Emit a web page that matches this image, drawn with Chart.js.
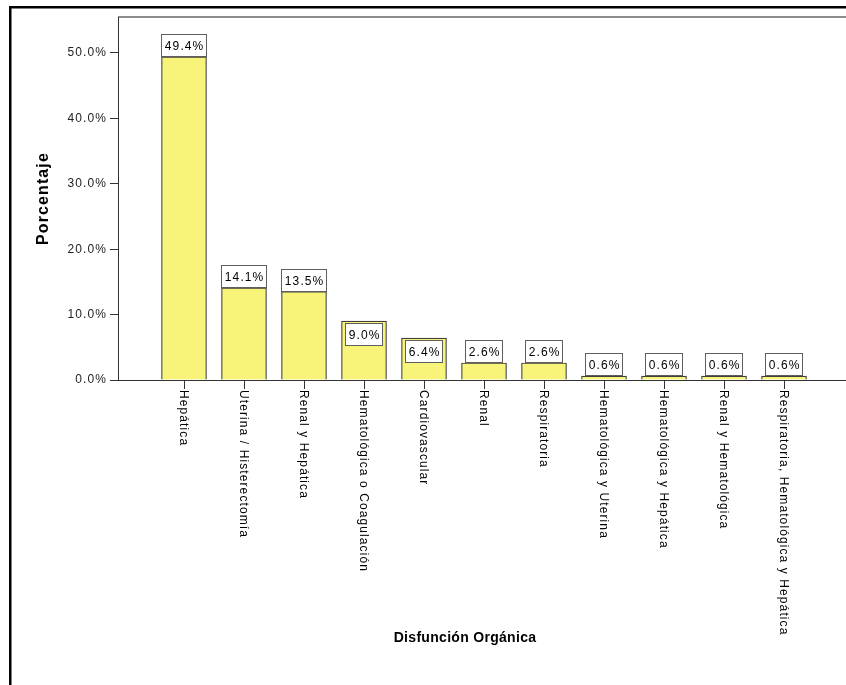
<!DOCTYPE html>
<html>
<head>
<meta charset="utf-8">
<script src="https://cdn.jsdelivr.net/npm/chart.js@4/dist/chart.umd.min.js"></script>
<style>
  html, body { margin: 0; padding: 0; background: #fff; overflow: hidden; }
  #wrap { position: relative; width: 846px; height: 685px; }
</style>
</head>
<body>
<div id="wrap"><canvas id="chart" width="846" height="685"></canvas></div>
<script>
// data
const categories = [
  'Hepática', 'Uterina / Histerectomía', 'Renal y Hepática', 'Hematológica o Coagulación',
  'Cardiovascular', 'Renal', 'Respiratoria', 'Hematológica y Uterina',
  'Hematológica y Hepática', 'Renal y Hematológica', 'Respiratoria, Hematológica y Hepática'
];
const percentages = [49.4, 14.1, 13.5, 9.0, 6.4, 2.6, 2.6, 0.6, 0.6, 0.6, 0.6];
const yTicks = [0, 10, 20, 30, 40, 50];
const yTitle = 'Porcentaje';
const xTitle = 'Disfunción Orgánica';

const FONT = '"Liberation Sans", Arial, sans-serif';
const pct = v => v.toFixed(1) + '%';

// frame, data labels, rotated category labels, x title
const decor = {
  id: 'decor',
  beforeDraw(c) {
    const g = c.ctx, a = c.chartArea;
    g.fillStyle = '#000';
    g.fillRect(9, 6, c.width, 2.5);
    g.fillRect(9, 6, 2.5, c.height);
    g.strokeStyle = '#8c8c8c';
    g.lineWidth = 2;
    g.beginPath();
    g.moveTo(a.left, a.top);
    g.lineTo(c.width, a.top);
    g.stroke();
    g.letterSpacing = '1.1px';
  },
  afterDatasetsDraw(c, args, opts) {
    const g = c.ctx;
    const meta = c.getDatasetMeta(0);
    const xs = c.scales.x;
    g.save();
    g.letterSpacing = '1.1px';
    g.font = '12px ' + FONT;
    meta.data.forEach((bar, i) => {
      const txt = pct(percentages[i]);
      const bw = Math.round(g.measureText(txt).width) + 6;
      const bh = 23;
      const inside = opts.inside.includes(i);
      const x0 = Math.round(bar.x - bw / 2);
      const y0 = inside ? Math.round(bar.y) + 2 : Math.round(bar.y) - bh;
      g.fillStyle = '#fff';
      g.fillRect(x0, y0, bw, bh);
      g.strokeStyle = '#5e5e5e';
      g.lineWidth = 1;
      g.strokeRect(x0 + 0.5, y0 + 0.5, bw - 1, bh - 1);
      g.fillStyle = '#000';
      g.textAlign = 'center';
      g.textBaseline = 'middle';
      g.fillText(txt, bar.x + 0.6, y0 + bh / 2 + 1);
    });
    // category labels, rotated clockwise
    categories.forEach((lab, i) => {
      const x = xs.getPixelForValue(i);
      g.save();
      g.translate(x - 1, xs.top + 10);
      g.rotate(Math.PI / 2);
      g.textAlign = 'left';
      g.textBaseline = 'middle';
      g.fillStyle = '#000';
      g.fillText(lab, 0, 0);
      g.restore();
    });
    g.letterSpacing = '0.3px';
    g.font = 'bold 14px ' + FONT;
    g.fillStyle = '#000';
    g.textAlign = 'center';
    g.textBaseline = 'middle';
    g.fillText(xTitle, opts.titleX, opts.titleY);
    g.restore();
  }
};

const ctx = document.getElementById('chart').getContext('2d');
const chart = new Chart(ctx, {
  type: 'bar',
  data: {
    datasets: [{
      data: percentages.map((v, i) => ({ x: i, y: v })),
      backgroundColor: '#f8f47a',
      borderColor: '#404040',
      borderWidth: 1.2,
      barThickness: 45
    }]
  },
  options: {
    responsive: false,
    animation: false,
    devicePixelRatio: 1,
    layout: { padding: { left: 0, right: 0, top: 17, bottom: 0 } },
    plugins: {
      legend: { display: false },
      tooltip: { enabled: false },
      decor: { inside: [3, 4], titleX: 465, titleY: 638 }
    },
    scales: {
      x: {
        type: 'linear',
        min: -1.1,
        max: 11.033,
        offset: false,
        z: 1,
        afterBuildTicks: s => { s.ticks = categories.map((_, i) => ({ value: i })); },
        afterFit: s => { s.height = 685 - 380; },
        ticks: { display: false },
        grid: { offset: false, drawOnChartArea: false, drawTicks: true, tickLength: 9, color: '#333', lineWidth: 1 },
        border: { display: true, color: '#333', width: 1 }
      },
      y: {
        min: 0,
        max: 55.5,
        afterBuildTicks: s => { s.ticks = yTicks.map(v => ({ value: v })); },
        afterFit: s => { s.width = 118; },
        ticks: {
          callback: v => pct(v),
          color: '#222',
          padding: 3,
          font: { family: FONT, size: 12 }
        },
        grid: { drawOnChartArea: false, drawTicks: true, tickLength: 8, color: '#333' },
        border: { display: true, color: '#333', width: 1 },
        title: {
          display: true,
          text: yTitle,
          color: '#000',
          font: { family: FONT, size: 16, weight: 'bold' },
          padding: { top: 34, bottom: 0 }
        }
      }
    }
  },
  plugins: [decor]
});
</script>
</body>
</html>
